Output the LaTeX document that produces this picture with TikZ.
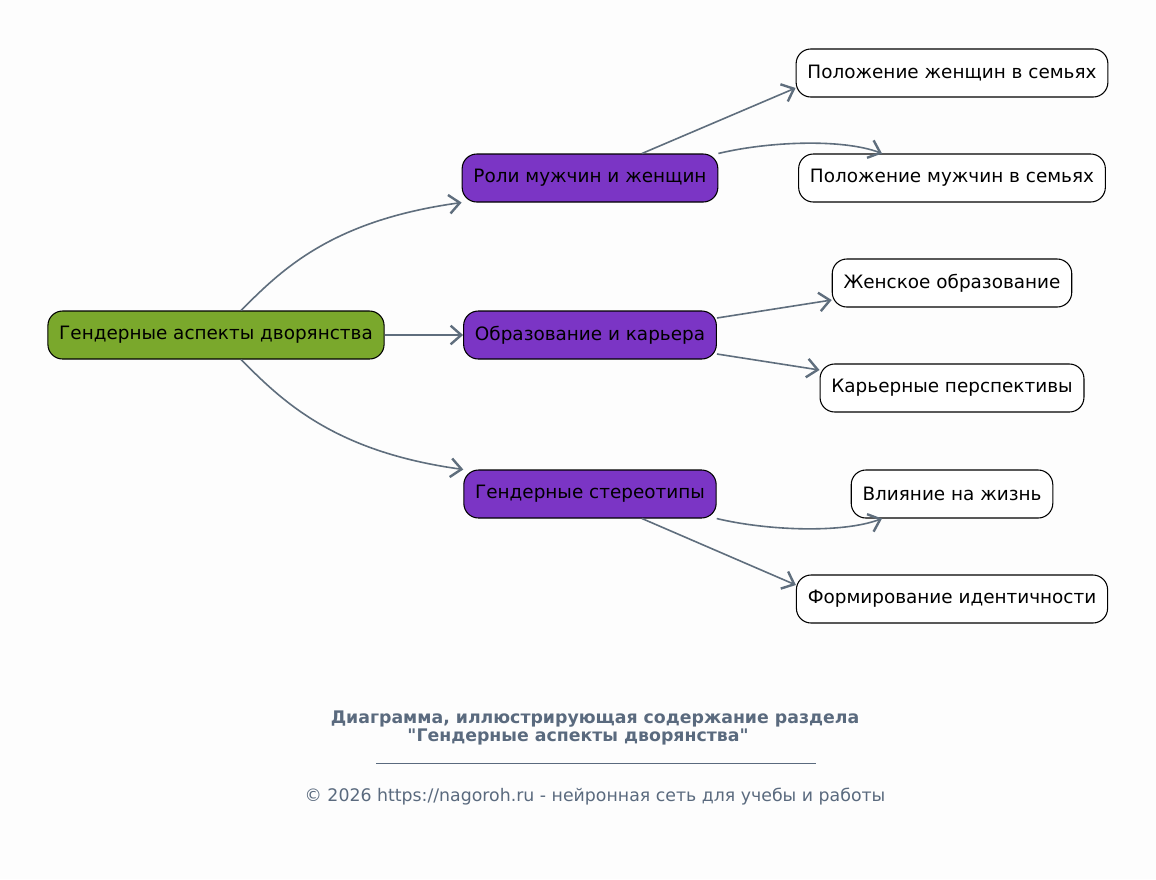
\documentclass[tikz,border=0pt]{standalone}
\usepackage{fontspec}
\setmainfont{DejaVu Sans}[Ligatures=TeXOff]
\definecolor{bggray}{RGB}{253,253,253}
\definecolor{rootgreen}{RGB}{122,168,44}
\definecolor{topicpurple}{RGB}{123,53,197}
\definecolor{edgegray}{RGB}{95,110,125}
\definecolor{footgray}{RGB}{90,106,126}
\usetikzlibrary{arrows.meta, calc}

\begin{document}
\begin{tikzpicture}[x=0.75pt, y=-0.75pt,
  box/.style={draw=black, line width=0.8pt, rounded corners=11pt, minimum height=36pt, inner xsep=8.5pt, font=\fontsize{13.8}{16}\selectfont},
  rootbox/.style={box, fill=rootgreen},
  topicbox/.style={box, fill=topicpurple},
  leafbox/.style={box, fill=white},
  link/.style={draw=edgegray, line width=1.2pt, -{Straight Barb[length=8pt, width=14pt, line width=1.8pt]}},
  foot/.style={text=footgray, font=\fontsize{13}{15}\selectfont},
  foottitle/.style={text=footgray, font=\fontsize{13}{15}\selectfont\bfseries}]

  % Background
  \fill[bggray] (0,0) rectangle (1156,879);

  % Root and topics
  \node[rootbox] (root) at (216,335) {Гендерные аспекты дворянства};
  \node[topicbox] (roles) at (590,178) {Роли мужчин и женщин};
  \node[topicbox] (educ) at (590,335) {Образование и карьера};
  \node[topicbox] (stereo) at (590,494) {Гендерные стереотипы};

  % Leaves
  \node[leafbox] (women) at (952,73) {Положение женщин в семьях};
  \node[leafbox] (men) at (952,178) {Положение мужчин в семьях};
  \node[leafbox] (femed) at (952,283) {Женское образование};
  \node[leafbox] (career) at (952,388) {Карьерные перспективы};
  \node[leafbox] (life) at (952,494) {Влияние на жизнь};
  \node[leafbox] (ident) at (952,599) {Формирование идентичности};

  % Root connectors
  \draw[link] ($(root.north)+(25,0)$) .. controls +(40,-40) and +(-131,18) .. (roles.south west);
  \draw[link] (root.east) -- (educ.west);
  \draw[link] ($(root.south)+(25,0)$) .. controls +(40,40) and +(-131,-18) .. (stereo.north west);

  % Topic connectors
  \draw[link] ($(roles.north)+(52,0)$) -- ($(women.west)+(0,15)$);
  \draw[link] (roles.north east) .. controls +(50,-12) and +(-40,-15) .. ($(men.north)+(-70,0)$);
  \draw[link] ($(educ.east)+(0,-17)$) -- ($(femed.west)+(0,17)$);
  \draw[link] ($(educ.east)+(0,19)$) -- ($(career.west)+(0,-18)$);
  \draw[link] (stereo.south east) .. controls +(50,12) and +(-40,15) .. ($(life.south)+(-70,0)$);
  \draw[link] ($(stereo.south)+(52,0)$) -- ($(ident.west)+(0,-14)$);

  % Footer
  \node[foottitle] (title1) at (595,719) {Диаграмма, иллюстрирующая содержание раздела};
  \node[foottitle] (title2) at (578,737) {"Гендерные аспекты дворянства"};
  \coordinate (ruleL) at (376,763);
  \coordinate (ruleR) at (816,763);
  \draw[footgray, line width=0.5pt] (ruleL) -- (ruleR);
  \node[foot] (copy) at (595,797) {© 2026 https://nagoroh.ru - нейронная сеть для учебы и работы};
\end{tikzpicture}
\end{document}
